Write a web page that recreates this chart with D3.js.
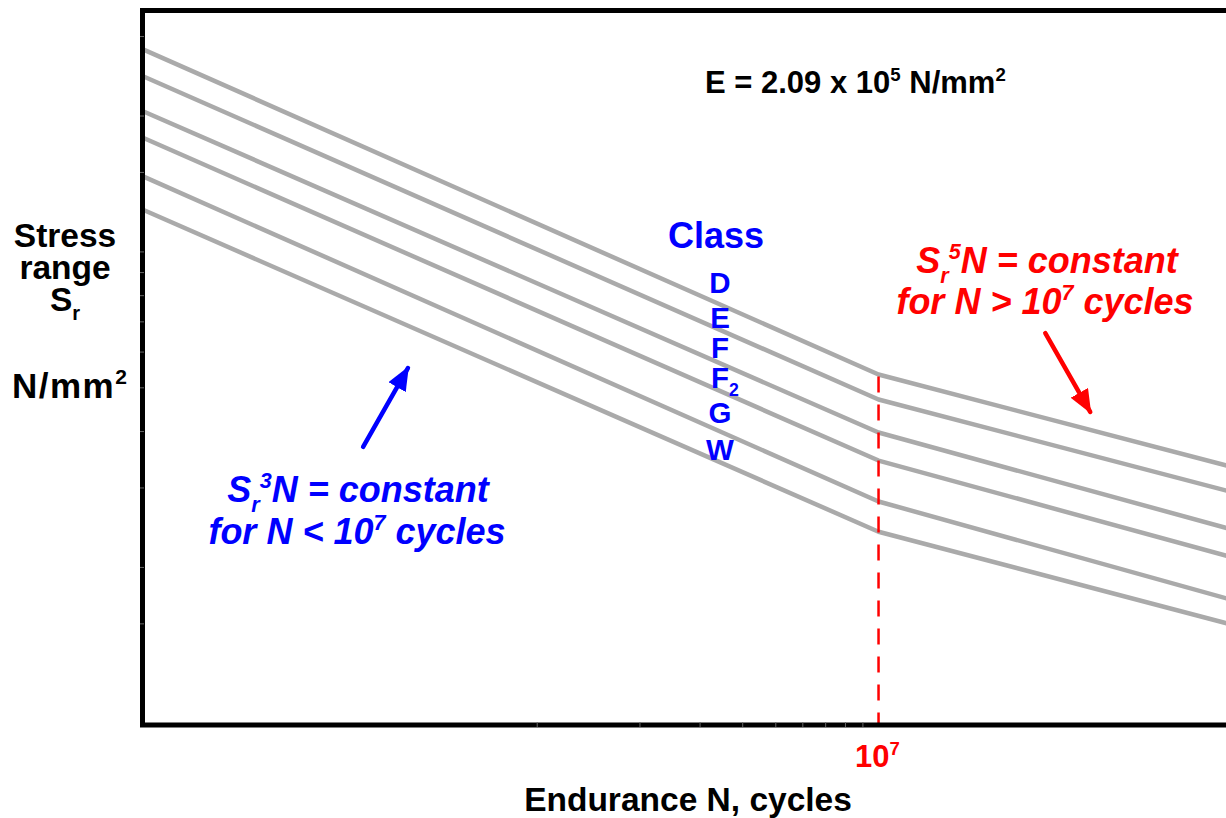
<!DOCTYPE html>
<html>
<head>
<meta charset="utf-8">
<script src="https://cdn.jsdelivr.net/npm/d3@7"></script>
<style>
  body { margin: 0; background: #fff; }
  svg { display: block; font-family: "Liberation Sans", Arial, sans-serif; font-weight: bold; }
</style>
</head>
<body>
<svg id="chart" width="1226" height="818"></svg>
<script>
// endurance points (cycles): left edge, knee, right edge
const cycles = [7e4, 1e7, 1.1e8];

// stress range (N/mm2) at those points, per class
const classNames = ["D", "E", "F", "F2", "G", "W"];
const stressD = [281, 53.5, 33.3];
const stressE = [245, 47.1, 29.3];
const stressF = [205, 39.8, 24.2];
const stressF2 = [179, 34.5, 21.0];
const stressG = [147, 28.0, 16.9];
const stressW = [124, 24.0, 14.9];
const stressSets = [stressD, stressE, stressF, stressF2, stressG, stressW];

// faint axis ticks
const xTicks = [1e6, 2e6, 3e6, 4e6, 5e6, 6e6, 7e6, 8e6, 9e6];
const yTicks = [300, 200, 150, 100, 90, 80, 70, 60, 50, 40, 30, 20, 15];

// annotation arrows, in data units [cycles, stress]
const arrowLow = [[3.09e5, 37.0], [4.18e5, 55.3]];
const arrowHigh = [[3.08e7, 66.1], [4.17e7, 44.2]];

const svg = d3.select("#chart");

const x = d3.scaleLog().domain([7e4, 1.1e8]).range([143, 1234]);
const y = d3.scaleLog().domain([9, 340]).range([724, 12]);

const defs = svg.append("defs");
[["headBlue", "#0000ff"], ["headRed", "#ff0000"]].forEach(([id, col]) => {
  defs.append("marker")
      .attr("id", id)
      .attr("markerUnits", "userSpaceOnUse")
      .attr("viewBox", "0 0 24 20")
      .attr("refX", 22).attr("refY", 10)
      .attr("markerWidth", 24).attr("markerHeight", 20)
      .attr("orient", "auto")
    .append("path")
      .attr("d", "M0,0 L24,10 L0,20 Z")
      .attr("fill", col);
});

// S-N lines
const line = d3.line()
    .x(d => x(d[0]))
    .y(d => y(d[1]))
    .curve(d3.curveLinear);

svg.append("g")
  .selectAll("path")
    .data(stressSets)
  .enter().append("path")
    .attr("d", s => line(cycles.map((n, i) => [n, s[i]])))
    .attr("fill", "none")
    .attr("stroke", "#aaaaaa")
    .attr("stroke-width", 4.5)
    .attr("stroke-linejoin", "round");

// knee at 10^7
svg.append("line")
    .attr("x1", x(cycles[1])).attr("x2", x(cycles[1]))
    .attr("y1", y(stressD[1]) + 2).attr("y2", y.range()[0])
    .attr("stroke", "#ff0000")
    .attr("stroke-width", 2.5)
    .attr("stroke-dasharray", "16,12");

// frame
svg.append("path")
    .attr("d", `M1240,${y.range()[1] - 1.5}H${x.range()[0] - 0.5}V${y.range()[0] + 1}H1240`)
    .attr("fill", "none")
    .attr("stroke", "#000")
    .attr("stroke-width", 5);

// faint ticks
svg.append("g")
  .selectAll("line")
    .data(xTicks)
  .enter().append("line")
    .attr("x1", d => x(d)).attr("x2", d => x(d))
    .attr("y1", y.range()[0] - 2).attr("y2", y.range()[0] + 3)
    .attr("stroke", "#666").attr("stroke-width", 1);

svg.append("g")
  .selectAll("line")
    .data(yTicks)
  .enter().append("line")
    .attr("x1", x.range()[0] - 3).attr("x2", x.range()[0] + 1)
    .attr("y1", d => y(d)).attr("y2", d => y(d))
    .attr("stroke", "#666").attr("stroke-width", 1);

// rich text helper: parts = [[text, "sub"|"sup"|undefined], ...]
function rich(px, py, parts, size, color, anchor, italic) {
  const t = svg.append("text")
      .attr("x", px).attr("y", py)
      .attr("font-size", size)
      .attr("fill", color)
      .attr("text-anchor", anchor || "start")
      .attr("font-style", italic ? "italic" : "normal");
  let shift = 0;
  parts.forEach(([txt, kind]) => {
    let target = 0;
    if (kind === "sub") target = size * 0.28;
    if (kind === "sup") target = -size * 0.4;
    t.append("tspan")
        .attr("dy", target - shift)
        .attr("font-size", kind ? size * 0.6 : size)
        .text(txt);
    shift = target;
  });
  return t;
}

// axis titles
rich(688, 811, [["Endurance N, cycles"]], 33.5, "#000", "middle");
rich(65, 247, [["Stress"]], 33.5, "#000", "middle");
rich(65, 279, [["range"]], 33.5, "#000", "middle");
rich(65, 311, [["S"], ["r", "sub"]], 33.5, "#000", "middle");
rich(12, 398, [["N/mm"], ["2", "sup"]], 35, "#000", "start")
    .attr("letter-spacing", 1.5);

// 10^7 label
rich(855, 767, [["10"], ["7", "sup"]], 31, "#ff0000", "start");

// modulus
rich(705, 93, [["E = 2.09 x 10"], ["5", "sup"], [" N/mm"], ["2", "sup"]], 31, "#000", "start");

// class labels
rich(716, 248, [["Class"]], 36, "#0000ff", "middle");
const classY = [293, 328, 358, 388, 423, 460];
classNames.forEach((c, i) => {
  if (c === "F2") {
    rich(711, classY[i], [["F"], ["2", "sub"]], 29.5, "#0000ff", "start");
  } else {
    rich(720, classY[i], [[c]], 29.5, "#0000ff", "middle");
  }
});

// slope annotations
rich(358, 502, [["S"], ["r", "sub"], ["3", "sup"], ["N = constant"]], 36, "#0000ff", "middle", true);
rich(357, 544, [["for N < 10"], ["7", "sup"], [" cycles"]], 36, "#0000ff", "middle", true);
rich(1047, 273, [["S"], ["r", "sub"], ["5", "sup"], ["N = constant"]], 36, "#ff0000", "middle", true);
rich(1045, 314, [["for N > 10"], ["7", "sup"], [" cycles"]], 36, "#ff0000", "middle", true);

// arrows
[[arrowLow, "#0000ff", "headBlue"], [arrowHigh, "#ff0000", "headRed"]].forEach(([a, col, head]) => {
  svg.append("line")
      .attr("x1", x(a[0][0])).attr("y1", y(a[0][1]))
      .attr("x2", x(a[1][0])).attr("y2", y(a[1][1]))
      .attr("stroke", col)
      .attr("stroke-width", 4.5)
      .attr("stroke-linecap", "round")
      .attr("marker-end", `url(#${head})`);
});
</script>
</body>
</html>
